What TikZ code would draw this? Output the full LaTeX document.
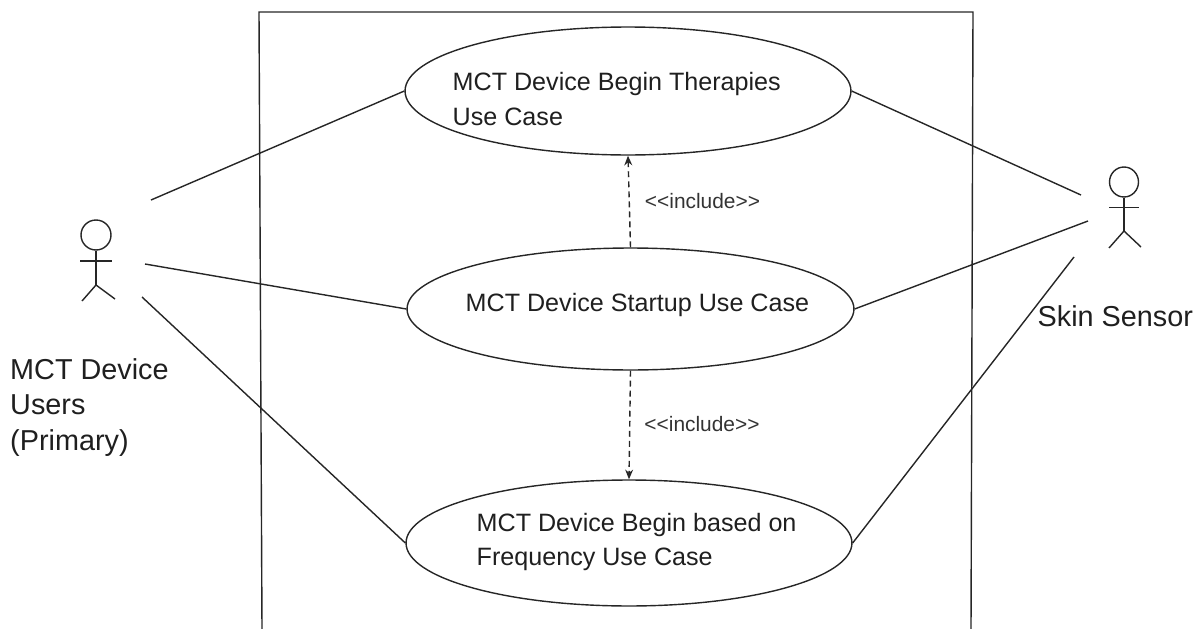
\documentclass[tikz,border=0pt]{standalone}
\usepackage{fontspec}
\setmainfont{Liberation Sans}
\usetikzlibrary{arrows.meta,shapes.geometric}

\tikzset{
  usecase/.style={draw,ellipse,inner sep=0pt},
  casetext/.style={anchor=west,align=left,inner sep=0pt,text=black!88,font=\fontsize{14.3}{19.4}\selectfont},
  actortext/.style={anchor=west,align=left,inner sep=0pt,text=black!88,font=\fontsize{16.4}{20}\selectfont},
  includetext/.style={inner sep=0pt,text=black!80,font=\fontsize{11.9}{14}\selectfont},
  head/.style={draw,ellipse,inner sep=0pt},
  include/.style={dash pattern=on 3.4pt off 2.3pt,-{Stealth[length=5.5pt,width=4.5pt]}},
}

\begin{document}
\begin{tikzpicture}[x=0.02cm,y=-0.02cm,line width=0.8pt,black!85]

\useasboundingbox (0,0) rectangle (1201,629);

% system boundary, open at the bottom
\coordinate (B1) at (262,629);
\coordinate (B2) at (259,12);
\coordinate (B3) at (973,12);
\coordinate (B4) at (971,629);
\draw (B1) -- (B2) -- (B3) -- (B4);

% use cases
\node[usecase,minimum width=8.92cm,minimum height=2.56cm] (therapies) at (628,91) {};
\node[usecase,minimum width=8.94cm,minimum height=2.44cm] (startup) at (630.5,309) {};
\node[usecase,minimum width=8.92cm,minimum height=2.52cm] (frequency) at (629,543) {};

\node[casetext] (therapiesText) at (452,99) {MCT Device Begin Therapies\\Use Case};
\node[casetext] (startupText) at (465,305) {MCT Device Startup Use Case};
\node[casetext] (frequencyText) at (476,542) {MCT Device Begin based on\\Frequency Use Case};

\draw[include] (startup.north) -- (therapies.south);
\draw[include] (startup.south) -- (frequency.north);
\node[includetext] (includeTop) at (702.5,201) {<{}<include>{}>};
\node[includetext] (includeBottom) at (702,424) {<{}<include>{}>};

% primary actor
\node[head,minimum width=0.6cm,minimum height=0.6cm] (userHead) at (96,235) {};
\coordinate (userHip) at (96,285);
\coordinate (userArmL) at (80,261);
\coordinate (userArmR) at (112,261);
\coordinate (userFootL) at (82,301);
\coordinate (userFootR) at (115,299);
\draw (userHead.south) -- (userHip);
\draw (userArmL) -- (userArmR);
\draw (userFootL) -- (userHip) -- (userFootR);
\node[actortext] (userText) at (9.5,407.5) {MCT Device\\Users\\(Primary)};

% secondary actor
\node[head,minimum width=0.58cm,minimum height=0.6cm] (sensorHead) at (1124,182) {};
\coordinate (sensorHip) at (1124,231);
\coordinate (sensorArmL) at (1109,207.5);
\coordinate (sensorArmR) at (1139,207.5);
\coordinate (sensorFootL) at (1109,248);
\coordinate (sensorFootR) at (1141,247);
\draw (sensorHead.south) -- (sensorHip);
\draw (sensorArmL) -- (sensorArmR);
\draw (sensorFootL) -- (sensorHip) -- (sensorFootR);
\node[actortext] (sensorText) at (1037,316) {Skin Sensor};

% associations
\coordinate (U1) at (151,200);
\coordinate (U2) at (145,264);
\coordinate (U3) at (142,297);
\coordinate (S1) at (1081,195);
\coordinate (S2) at (1088,221);
\coordinate (S3) at (1074,257);

\draw (U1) -- (therapies.west);
\draw (U2) -- (startup.west);
\draw (U3) -- (frequency.west);
\draw (S1) -- (therapies.east);
\draw (S2) -- (startup.east);
\draw (S3) -- (frequency.east);

\end{tikzpicture}
\end{document}
